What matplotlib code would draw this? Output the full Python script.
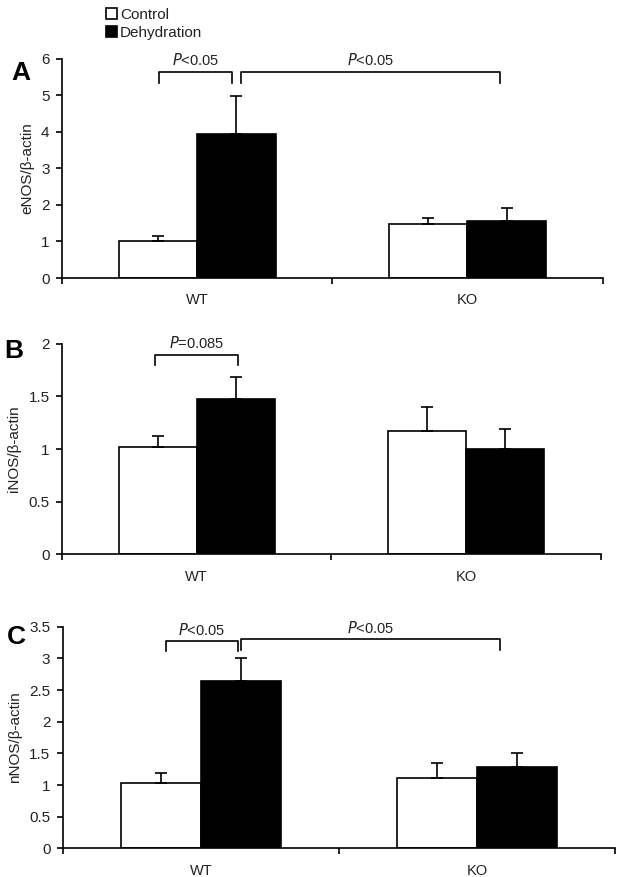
import matplotlib
matplotlib.use("Agg")
import matplotlib.pyplot as plt
import numpy as np
from matplotlib.patches import Patch

plt.rcParams['font.family'] = ['Liberation Sans', 'DejaVu Sans']

groups = ["WT", "KO"]
series = ["Control", "Dehydration"]

# A: eNOS
enos_ctrl = [1.02, 1.47]
enos_ctrl_err = [0.13, 0.18]
enos_dehy = [3.95, 1.57]
enos_dehy_err = [1.03, 0.34]

# B: iNOS
inos_ctrl = [1.02, 1.17]
inos_ctrl_err = [0.10, 0.23]
inos_dehy = [1.48, 1.00]
inos_dehy_err = [0.20, 0.19]

# C: nNOS
nnos_ctrl = [1.03, 1.11]
nnos_ctrl_err = [0.16, 0.23]
nnos_dehy = [2.65, 1.28]
nnos_dehy_err = [0.35, 0.23]

W = 0.29
FS = 11


def panel(ax, ctrl, cerr, dehy, derr, ymax, ystep, ylabel, letter, lx, ly):
    x = np.arange(len(groups))
    ek = dict(ecolor="black", capsize=4, elinewidth=1.2, capthick=1.2)
    ax.bar(x - W / 2, ctrl, W, color="white", edgecolor="black", lw=1.2)
    ax.errorbar(x - W / 2, ctrl, yerr=[np.zeros(2), cerr], fmt="none", **ek)
    ax.bar(x + W / 2, dehy, W, color="black", edgecolor="black", lw=1.2)
    ax.errorbar(x + W / 2, dehy, yerr=[np.zeros(2), derr], fmt="none", **ek)
    ax.set_xlim(-0.5, 1.5)
    ax.set_ylim(0, ymax)
    yt = np.arange(0, ymax + 1e-9, ystep)
    ax.set_yticks(yt)
    ax.set_yticklabels([f"{v:g}" for v in yt], fontsize=FS, color="#222222")
    ax.set_xticks([-0.5, 0.5, 1.5])
    ax.set_xticklabels([])
    ax.set_xticks(x, minor=True)
    ax.set_xticklabels(groups, minor=True, fontsize=FS - 0.5, color="#222222")
    ax.tick_params(axis="x", which="minor", length=0, pad=11)
    ax.tick_params(axis="x", which="major", length=4, width=1.2, direction="out")
    ax.tick_params(axis="y", length=4, width=1.2, direction="out", pad=5)
    for s in ["top", "right"]:
        ax.spines[s].set_visible(False)
    for s in ["left", "bottom"]:
        ax.spines[s].set_linewidth(1.2)
    ax.set_ylabel(ylabel, fontsize=FS, labelpad=5, color="#222222")
    # panel letter placed in figure pixels
    fig = ax.figure
    fig.text(lx / 617, 1 - ly / 877, letter, fontsize=19, fontweight="bold",
             ha="center", va="center")


def bracket(ax, x0, x1, ytop, ybot, label):
    ax.plot([x0, x0, x1, x1], [ybot, ytop, ytop, ybot], color="black", lw=1.2, clip_on=False)
    ax.text((x0 + x1) / 2, ytop + (ytop - ybot) * 0.35, label, ha="center", va="bottom",
            fontsize=FS - 0.5, color="#222222")


fig = plt.figure(figsize=(6.17, 8.77), dpi=100)
axA = fig.add_axes([0.1005, 0.683, 0.876, 0.250])
axB = fig.add_axes([0.1005, 0.368, 0.873, 0.240])
axC = fig.add_axes([0.102, 0.0327, 0.895, 0.2527])

panel(axA, enos_ctrl, enos_ctrl_err, enos_dehy, enos_dehy_err, 6, 1, "eNOS/β-actin", "A", 21, 73)
bracket(axA, -0.141, 0.128, 5.64, 5.34, "$\\it{P}$<0.05")
bracket(axA, 0.162, 1.119, 5.64, 5.34, "$\\it{P}$<0.05")

panel(axB, inos_ctrl, inos_ctrl_err, inos_dehy, inos_dehy_err, 2, 0.5, "iNOS/β-actin", "B", 14, 351)
bracket(axB, -0.155, 0.153, 1.895, 1.80, "$\\it{P}$=0.085")

panel(axC, nnos_ctrl, nnos_ctrl_err, nnos_dehy, nnos_dehy_err, 3.5, 0.5, "nNOS/β-actin", "C", 16, 637)
bracket(axC, -0.128, 0.133, 3.27, 3.11, "$\\it{P}$<0.05")
bracket(axC, 0.145, 1.083, 3.30, 3.13, "$\\it{P}$<0.05")

handles = [Patch(facecolor="white", edgecolor="black", lw=1.2),
           Patch(facecolor="black", edgecolor="black", lw=1.2)]
fig.legend(handles, series, loc="upper left", bbox_to_anchor=(0.16, 1.0),
           frameon=False, handlelength=0.7, handleheight=0.7, handletextpad=0.2,
           labelspacing=0.28, borderpad=0.0, fontsize=FS, labelcolor="#222222")

fig.savefig("out.png", dpi=100)
